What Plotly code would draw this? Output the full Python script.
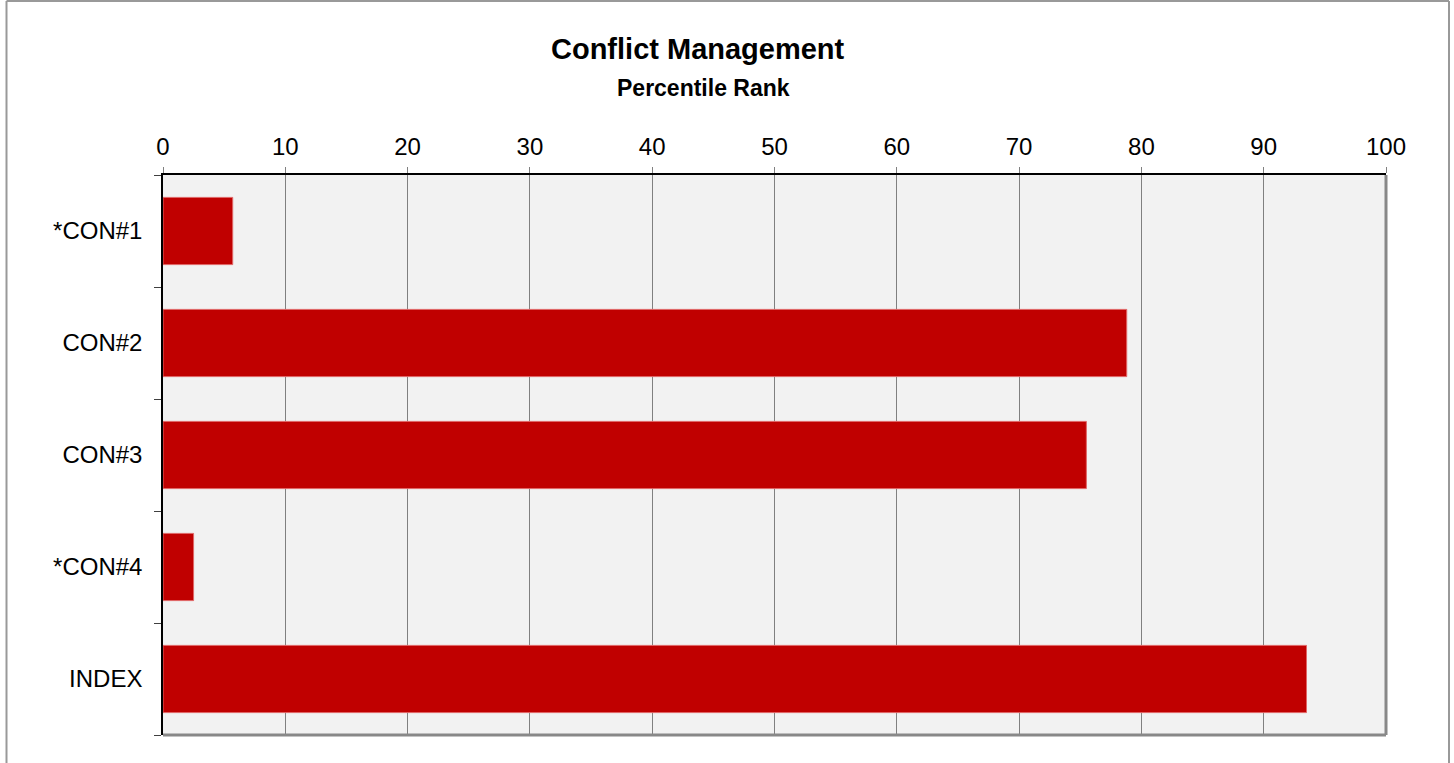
import plotly.graph_objects as go

categorias = ["*CON#1", "CON#2", "CON#3", "*CON#4", "INDEX"]
percentil = [5.7, 78.8, 75.5, 2.5, 93.5]
ticks_x = [0, 10, 20, 30, 40, 50, 60, 70, 80, 90, 100]

W, H = 1454, 763
ml, mr, mt, mb = 163, 68, 175, 28
pw, ph = W - ml - mr, H - mt - mb


def px_x(x):
    return (x - ml) / pw


def px_y(y):
    return 1 - (y - mt) / ph


fig = go.Figure(go.Bar(
    x=percentil,
    y=categorias,
    orientation="h",
    marker=dict(color="#C00000", line=dict(color="#E06666", width=1)),
    width=0.6,
    hoverinfo="x+y",
))

fig.update_layout(
    width=W,
    height=H,
    margin=dict(l=ml, r=mr, t=mt, b=mb),
    paper_bgcolor="white",
    plot_bgcolor="#F2F2F2",
    font=dict(family="Liberation Sans, Arial", color="black", size=24),
    showlegend=False,
    xaxis=dict(
        side="top",
        range=[0, 100],
        tickvals=ticks_x,
        showgrid=True,
        gridcolor="#808080",
        gridwidth=1,
        showline=True,
        linecolor="black",
        linewidth=1.5,
        ticks="outside",
        ticklen=6,
        tickcolor="#808080",
        zeroline=False,
        ticklabelstandoff=3,
        tickfont=dict(size=24),
    ),
    yaxis=dict(
        categoryorder="array",
        categoryarray=categorias[::-1],
        showline=True,
        linecolor="black",
        linewidth=1.5,
        ticks="outside",
        tickson="boundaries",
        ticklen=7,
        tickcolor="#404040",
        showgrid=False,
        ticklabelstandoff=14,
        tickfont=dict(size=24),
    ),
    annotations=[
        dict(text="<b>Conflict Management</b>", x=px_x(698), y=px_y(49),
             xref="paper", yref="paper", showarrow=False,
             font=dict(size=29), xanchor="center", yanchor="middle"),
        dict(text="<b>Percentile Rank</b>", x=px_x(703), y=px_y(88),
             xref="paper", yref="paper", showarrow=False,
             font=dict(size=23), xanchor="center", yanchor="middle"),
    ],
    shapes=[
        # sombra gris a la derecha y abajo del área de trazado
        dict(type="line", xref="paper", yref="paper", x0=1, x1=1, y0=0, y1=1,
             line=dict(color="#888888", width=3)),
        dict(type="line", xref="paper", yref="paper", x0=0, x1=1, y0=0, y1=0,
             line=dict(color="#888888", width=3)),
        # borde del gráfico
        dict(type="line", xref="paper", yref="paper", x0=px_x(6.5), x1=px_x(6.5),
             y0=px_y(1), y1=px_y(770), line=dict(color="#999999", width=2)),
        dict(type="line", xref="paper", yref="paper", x0=px_x(1449), x1=px_x(1449),
             y0=px_y(1), y1=px_y(770), line=dict(color="#999999", width=2)),
        dict(type="line", xref="paper", yref="paper", x0=px_x(6.5), x1=px_x(1449),
             y0=px_y(1), y1=px_y(1), line=dict(color="#999999", width=2)),
    ],
)

# quitar el margen por defecto del <body> para que la figura quede en (0, 0)
fig.write_html(
    "out.html",
    config={"displayModeBar": False},
    post_script="document.body.style.margin='0px';",
)
